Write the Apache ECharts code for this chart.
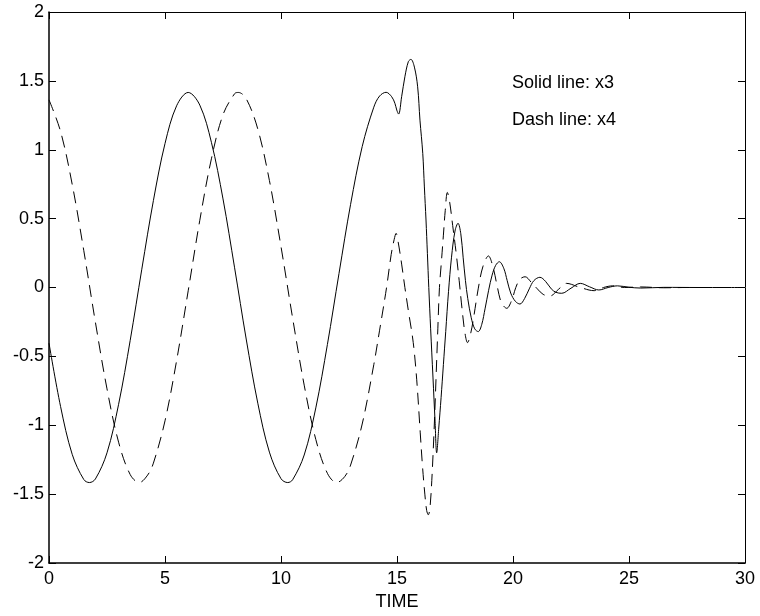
<!DOCTYPE html>
<html>
<head>
<meta charset="utf-8">
<script src="https://cdn.jsdelivr.net/npm/echarts/dist/echarts.min.js"></script>
<style>html,body{margin:0;padding:0;background:#fff}#c{width:760px;height:616px}</style>
</head>
<body>
<div id="c"></div>
<script>
// Solid line: x3
const timeX3 = [0,0.5,1,1.5,1.74,2,2.5,3,3.5,4,4.5,5,5.5,6,6.5,7,7.5,8,8.5,9,9.5,10,10.29,10.5,11,11.5,12,12.5,13,13.5,
  14,14.25,14.53,14.77,14.91,14.99,15.07,15.2,15.34,15.49,15.6,15.75,15.89,15.99,16.11,16.18,16.25,16.31,16.37,
  16.45,16.55,16.64,16.71,16.8,16.9,17,17.1,17.22,17.35,17.5,17.63,17.75,17.85,17.95,18.05,18.2,18.35,18.5,18.65,
  18.8,18.95,19.1,19.25,19.41,19.6,19.75,19.9,20.1,20.3,20.5,20.7,20.9,21.16,21.4,21.65,21.85,22.1,22.5,22.9,23.3,
  23.7,24.1,24.5,25,25.5,26.5,28,30];
const valueX3 = [-0.404,-0.865,-1.211,-1.394,-1.416,-1.390,-1.200,-0.848,-0.384,0.133,0.631,1.045,1.319,1.416,1.324,1.054,0.643,0.143,-0.374,-0.840,-1.195,-1.388,-1.416,-1.396,-1.216,-0.874,-0.414,0.102,0.604,1.023,
  1.309,1.390,1.417,1.385,1.337,1.288,1.259,1.385,1.530,1.640,1.656,1.600,1.457,1.215,0.974,0.730,0.490,0.248,0.000,
  -0.300,-0.650,-0.970,-1.200,-1.020,-0.800,-0.560,-0.320,-0.030,0.220,0.410,0.466,0.390,0.220,0.050,-0.080,-0.220,-0.300,-0.320,-0.270,
  -0.150,-0.020,0.090,0.160,0.187,0.140,0.050,-0.040,-0.100,-0.120,-0.080,-0.010,0.050,0.074,0.045,-0.010,-0.035,-0.042,-0.005,0.030,0.005,
  -0.018,0.000,0.012,0.002,-0.004,0.001,0,0];

// Dash line: x4
const timeX4 = [0,0.5,1,1.5,2,2.5,3,3.5,3.89,4.25,4.5,5,5.5,6,6.5,7,7.5,8,8.16,8.5,9,9.5,10,10.5,11,11.5,12,12.4,12.75,13,13.5,14,
  14.25,14.55,14.75,14.88,14.96,15.05,15.2,15.34,15.5,15.7,15.85,16,16.1,16.2,16.28,16.35,16.42,16.5,16.6,16.68,16.76,
  16.83,16.92,17,17.08,17.17,17.27,17.4,17.55,17.68,17.8,17.92,18.04,18.18,18.32,18.5,18.7,18.94,19.15,19.33,19.5,19.73,
  19.95,20.12,20.3,20.52,20.8,21.05,21.3,21.59,21.95,22.3,22.9,23.5,23.9,24.3,24.8,25.5,26.5,27.5,30];
const valueX4 = [1.362,1.132,0.749,0.267,-0.252,-0.736,-1.123,-1.358,-1.416,-1.362,-1.275,-0.968,-0.531,-0.024,0.488,0.934,1.254,1.407,1.416,1.371,1.150,0.777,0.297,-0.221,-0.709,-1.103,-1.349,-1.416,-1.372,-1.289,-0.991,-0.560,
  -0.310,0.000,0.240,0.350,0.393,0.330,0.170,0.000,-0.180,-0.400,-0.670,-1.050,-1.300,-1.500,-1.620,-1.650,-1.600,-1.400,-1.030,-0.670,-0.300,
  0.000,0.200,0.380,0.560,0.690,0.620,0.450,0.250,0.050,-0.150,-0.320,-0.400,-0.330,-0.200,-0.010,0.150,0.229,0.140,0.000,-0.110,-0.151,
  -0.090,0.000,0.060,0.078,0.035,-0.010,-0.050,-0.062,-0.015,0.030,0.000,-0.023,0.000,0.012,0.000,0.004,-0.002,0,0];

const xAxisTitle = 'TIME';
const noteLines = ['Solid line: x3', 'Dash line: x4'];

const FONT = '"Liberation Sans", Arial, Helvetica, sans-serif';
const pairs = (t, v) => t.map((x, i) => [x, v[i]]);

const chart = echarts.init(document.getElementById('c'), null, {renderer: 'canvas'});
const baseAxis = {
  type: 'value',
  splitLine: {show: false},
  axisTick: {show: true, inside: true, length: 7, lineStyle: {color: '#000', width: 1}},
  axisLine: {show: true, onZero: false, lineStyle: {color: '#000', width: 1}}
};
chart.setOption({
  backgroundColor: '#fff',
  animation: false,
  grid: {left: 49, right: 15, top: 12, bottom: 53, containLabel: false},
  xAxis: [
    Object.assign({}, baseAxis, {
      position: 'bottom', min: 0, max: 30, interval: 5,
      axisLine: {show: true, onZero: false, lineStyle: {color: '#000', width: 1.5}},
      axisLabel: {color: '#000', fontSize: 18, fontFamily: FONT, margin: 7},
      name: xAxisTitle, nameLocation: 'middle', nameGap: 26,
      nameTextStyle: {color: '#000', fontSize: 18, fontFamily: FONT}
    }),
    Object.assign({}, baseAxis, {
      position: 'top', min: 0, max: 30, interval: 5,
      axisLabel: {show: false}
    })
  ],
  yAxis: [
    Object.assign({}, baseAxis, {
      position: 'left', min: -2, max: 2, interval: 0.5,
      axisLine: {show: true, onZero: false, lineStyle: {color: '#000', width: 1.5}},
      axisLabel: {color: '#000', fontSize: 18, fontFamily: FONT, margin: 5}
    }),
    Object.assign({}, baseAxis, {
      position: 'right', min: -2, max: 2, interval: 0.5,
      axisLabel: {show: false}
    })
  ],
  graphic: [
    {type: 'text', left: 512, top: 74, style: {text: noteLines[0], fill: '#000', font: '18px ' + FONT}},
    {type: 'text', left: 512, top: 111, style: {text: noteLines[1], fill: '#000', font: '18px ' + FONT}}
  ],
  series: [
    {
      name: 'x3', type: 'line', data: pairs(timeX3, valueX3), smooth: 0.35,
      showSymbol: false, symbol: 'none', clip: true,
      lineStyle: {color: '#000', width: 1, type: 'solid'}
    },
    {
      name: 'x4', type: 'line', data: pairs(timeX4, valueX4), smooth: 0.35,
      showSymbol: false, symbol: 'none', clip: true,
      lineStyle: {color: '#000', width: 1, type: [12, 7]}
    }
  ]
});
</script>
</body>
</html>
